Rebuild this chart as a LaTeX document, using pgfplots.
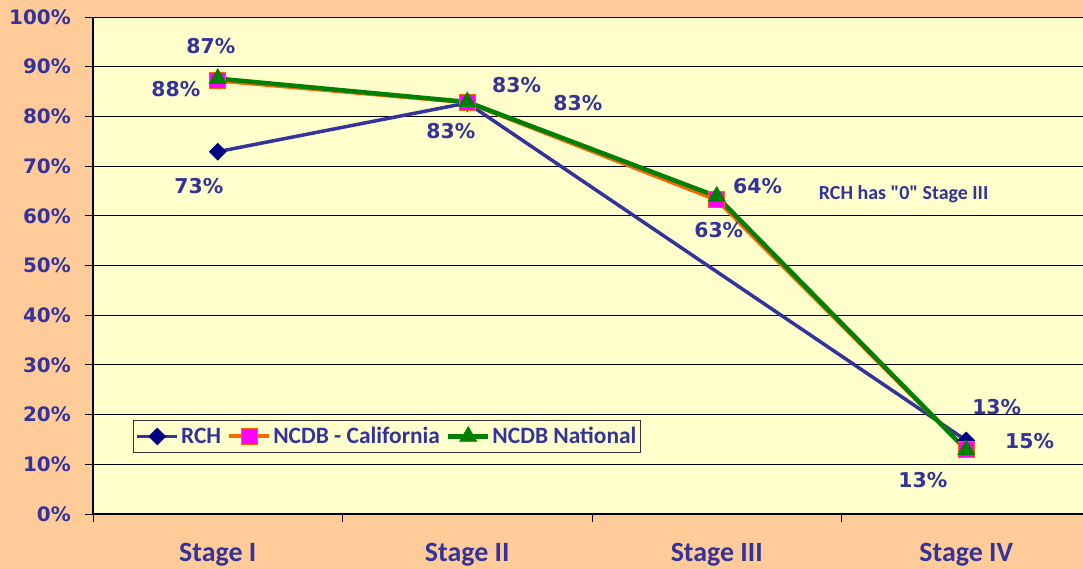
\documentclass[border=0pt]{standalone}
\usepackage{pgfplots}
\pgfplotsset{compat=1.18}
\usepackage{fontspec}
\setmainfont{Carlito}
\newfontfamily\rawcarlito{Carlito}
\newfontfamily\dejavu{DejaVu Sans}
\definecolor{peach}{HTML}{FFCC99}
\definecolor{plotbg}{HTML}{FFFFCC}
\definecolor{txtblue}{HTML}{333399}
\definecolor{rchline}{HTML}{333399}
\definecolor{rchmark}{HTML}{000080}
\definecolor{caline}{HTML}{FF6600}
\definecolor{camark}{HTML}{FF00FF}
\definecolor{natgreen}{HTML}{008000}
\tikzset{lbl/.style={font=\dejavu\bfseries\fontsize{20.5}{24}\selectfont, text=txtblue, inner sep=0pt}}
\begin{document}
\begin{tikzpicture}[x=1bp,y=1bp]
\useasboundingbox (-93,-55) rectangle (990,514);
\fill[peach] (-93,-55) rectangle (990,514);
\begin{axis}[
  at={(0,0)}, anchor=south west,
  scale only axis, width=990bp, height=497bp,
  xmin=-0.5, xmax=3.468, ymin=0, ymax=100,
  axis background/.style={fill=plotbg},
  axis lines=left,
  axis line style={-, black, line width=1.3bp},
  tick align=outside,
  major tick length=8bp,
  tick style={black, line width=0.9bp},
  ytick={0,10,...,100},
  yticklabel={\pgfmathprintnumber{\tick}\%},
  yticklabel style={font=\dejavu\bfseries\fontsize{20}{24}\selectfont, text=txtblue, inner sep=0pt, xshift=-14bp},
  /pgf/number format/assume math mode=true,
  ymajorgrids,
  grid style={black, line width=0.8bp},
  xtick={-0.5,0.5,1.5,2.5},
  xticklabels={},
  extra x ticks={0,1,2,3},
  extra x tick labels={Stage I,Stage II,Stage III,Stage IV},
  extra x tick style={major tick length=0pt, xticklabel style={font=\bfseries\fontsize{28}{30}\selectfont, text=txtblue, anchor=center, yshift=-41bp}},
  legend style={at={(0.0404,0.1227)}, anchor=south west, draw=black!80, line width=1.2bp, fill=plotbg,
    font=\bfseries\fontsize{23.5}{26}\selectfont, text=txtblue, inner xsep=2bp, inner ysep=5bp,
    /tikz/every even column/.append style={column sep=4bp}},
  legend columns=3,
  legend cell align=left,
  legend image code/.code={\draw[mark repeat=2,mark phase=2] plot coordinates {(0bp,0bp)(20bp,0bp)(40bp,0bp)};},
]
\addplot[color=rchline, line width=3.5bp, mark=square*, mark size=6bp,
  mark options={rotate=45, fill=rchmark, draw=rchmark, line width=0.5bp}]
  coordinates {(0,72.9)(1,82.7)(3,14.8)};
\addlegendentry{RCH}
\addplot[color=caline, line width=4bp, mark=square*, mark size=8bp,
  mark options={fill=camark, draw=caline, line width=1.2bp}]
  coordinates {(0,87.2)(1,82.8)(2,63.2)(3,12.9)};
\addlegendentry{NCDB - California}
\addplot[color=natgreen, line width=4.5bp, mark=triangle*, mark size=10bp,
  mark options={fill=natgreen, draw=natgreen, line width=0.5bp}]
  coordinates {(0,87.6)(1,82.9)(2,63.9)(3,12.9)};
\addlegendentry{NCDB National}
\node[lbl] at (axis cs:-0.028,94.2) {87\%};
\node[lbl] at (axis cs:-0.168,85.5) {88\%};
\node[lbl] at (axis cs:-0.076,66.0) {73\%};
\node[lbl] at (axis cs:1.198,86.3) {83\%};
\node[lbl] at (axis cs:1.443,82.7) {83\%};
\node[lbl] at (axis cs:0.934,77.1) {83\%};
\node[lbl] at (axis cs:2.164,66.0) {64\%};
\node[lbl] at (axis cs:2.008,57.1) {63\%};
\node[lbl] at (axis cs:3.122,21.5) {13\%};
\node[lbl] at (axis cs:3.254,14.7) {15\%};
\node[lbl] at (axis cs:2.826,6.8) {13\%};
\node[font=\rawcarlito\bfseries\fontsize{20}{22}\selectfont, text=txtblue, inner sep=0pt] at (axis cs:2.749,64.4) {RCH has "0" Stage III};
\end{axis}
\end{tikzpicture}
\end{document}
